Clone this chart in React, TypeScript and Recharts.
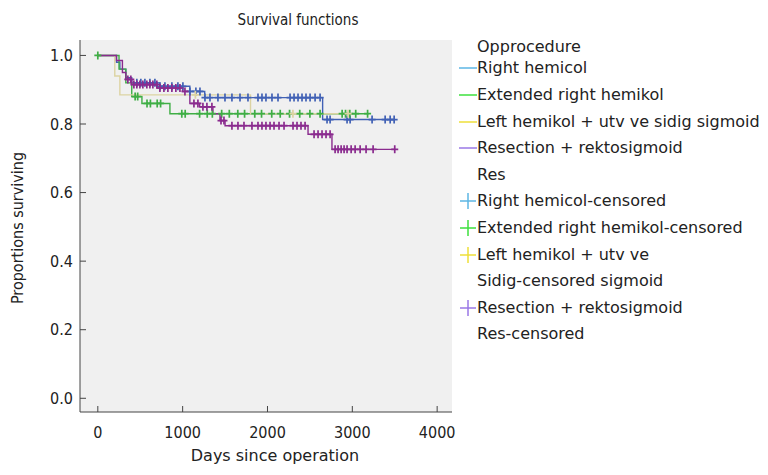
import React from "react";
import { LineChart, Line, XAxis, YAxis, CartesianGrid } from "recharts";

const FONT = '"DejaVu Sans Condensed", "DejaVu Sans", sans-serif';
const WIDE_FONT = '"DejaVu Sans", sans-serif';

const xTicks = [0, 1000, 2000, 3000, 4000];
const yTicks = [0, 0.2, 0.4, 0.6, 0.8, 1.0];

// Right hemicol
const rightTimes = [0, 220, 260, 330, 400, 730, 1085, 1260, 2650, 3500];
const rightSurv = [1.0, 0.98, 0.96, 0.935, 0.92, 0.91, 0.895, 0.877, 0.813, 0.813];
const rightCensored = [460, 507, 555, 614, 673, 732, 791, 873, 944, 1003, 1086, 1156, 1204, 1263, 1322, 1416, 1499, 1581, 1676, 1770, 1888, 1935, 1982, 2053, 2124, 2266, 2313, 2360, 2407, 2454, 2502, 2561, 2620, 2702, 2738, 2938, 2974, 3233, 3387, 3446, 3493];

// Extended right hemikol
const extTimes = [0, 250, 330, 400, 520, 850, 3190];
const extSurv = [1.0, 0.96, 0.92, 0.88, 0.86, 0.83, 0.83];
const extCensored = [0, 440, 470, 580, 620, 700, 740, 990, 1030, 1200, 1290, 1350, 1460, 1550, 1650, 1730, 1850, 1930, 2050, 2150, 2260, 2380, 2500, 2620, 2880, 2920, 2970, 3040, 3180];

// Left hemikol + utv ve sidig sigmoid
const leftTimes = [0, 200, 260, 1800, 3000];
const leftSurv = [1.0, 0.94, 0.885, 0.83, 0.83];
const leftCensored = [1150, 2300, 2950];

// Resection + rektosigmoid
const resTimes = [0, 220, 290, 330, 400, 700, 1000, 1085, 1200, 1357, 1440, 1500, 2478, 2760, 3500];
const resSurv = [1.0, 0.985, 0.95, 0.93, 0.915, 0.905, 0.895, 0.86, 0.85, 0.83, 0.81, 0.795, 0.77, 0.726, 0.726];
const resCensored = [354, 389, 425, 460, 496, 531, 578, 614, 649, 696, 732, 779, 826, 873, 920, 968, 1027, 1133, 1180, 1239, 1286, 1345, 1452, 1487, 1581, 1652, 1723, 1817, 1888, 1935, 1982, 2030, 2077, 2136, 2195, 2301, 2348, 2395, 2443, 2549, 2596, 2643, 2690, 2738, 2797, 2832, 2868, 2903, 2938, 2986, 3033, 3092, 3162, 3245, 3500];

const legendRows = [
  { label: "Right hemicol", mark: "line", color: "#5db6e4" },
  { label: "Extended right hemikol", mark: "line", color: "#3ee03e" },
  { label: "Left hemikol + utv ve sidig sigmoid", mark: "line", color: "#eedf3a" },
  { label: "Resection + rektosigmoid", mark: "line", color: "#9a78e6" },
  { label: "Res", mark: "", color: "" },
  { label: "Right hemicol-censored", mark: "cross", color: "#5db6e4" },
  { label: "Extended right hemikol-censored", mark: "cross", color: "#3ee03e" },
  { label: "Left hemikol + utv ve", mark: "cross", color: "#eedf3a" },
  { label: "Sidig-censored sigmoid", mark: "", color: "" },
  { label: "Resection + rektosigmoid", mark: "cross", color: "#9a78e6" },
  { label: "Res-censored", mark: "", color: "" },
];

const stepData = (times: number[], surv: number[]) =>
  times.map((t, i) => ({ t, s: surv[i] }));

const censorData = (times: number[], surv: number[], cens: number[]) =>
  cens.map((c) => {
    let s = surv[0];
    times.forEach((t, i) => {
      if (t <= c) s = surv[i];
    });
    return { t: c, s };
  });

const series = [
  { name: "Right hemicol", color: "#4161b5", times: rightTimes, surv: rightSurv, cens: rightCensored },
  { name: "Extended right hemikol", color: "#3fae45", times: extTimes, surv: extSurv, cens: extCensored },
  { name: "Left hemikol", color: "#dcd3a2", times: leftTimes, surv: leftSurv, cens: leftCensored },
  { name: "Resection", color: "#8a2b8e", times: resTimes, surv: resSurv, cens: resCensored },
];

const makeCross = (color: string) => (props: any) => {
  const { cx, cy } = props;
  if (cx == null || cy == null) return <g />;
  return (
    <path
      d={`M${cx - 3.5},${cy}h7M${cx},${cy - 4}v8`}
      stroke={color}
      strokeWidth={1.7}
      fill="none"
    />
  );
};

const YTick = (props: any) => {
  const { x, y, payload } = props;
  const ax = x + 8;
  return (
    <g>
      <line x1={ax} x2={ax + 6} y1={y} y2={y} stroke="#444" />
      <text x={ax - 7} y={y} dy={5.5} textAnchor="end" fontSize={16} fill="#222" fontFamily={FONT}>
        {Number(payload.value).toFixed(1)}
      </text>
    </g>
  );
};

const XTick = (props: any) => {
  const { x, y, payload } = props;
  const ay = y - 8;
  return (
    <g>
      <line x1={x} x2={x} y1={ay} y2={ay - 6} stroke="#444" />
      <text x={x} y={ay + 20} dy={5.5} textAnchor="middle" fontSize={16} fill="#222" fontFamily={FONT}>
        {payload.value}
      </text>
    </g>
  );
};

export default function App() {
  return (
    <div style={{ position: "absolute", left: 0, top: 0, width: 768, height: 475, background: "#fff", fontFamily: FONT, color: "#222" }}>
      <LineChart width={768} height={475} margin={{ top: 40, right: 316, bottom: 23, left: 0 }}>
        <CartesianGrid horizontal={false} vertical={false} fill="#f0f0f0" stroke="none" />
        <XAxis
          type="number"
          dataKey="t"
          domain={[-210, 4175]}
          ticks={xTicks}
          height={40}
          tickSize={6}
          tickMargin={2}
          tickLine={false}
          tick={<XTick />}
          stroke="#444"
          allowDataOverflow
        />
        <YAxis
          type="number"
          dataKey="s"
          domain={[-0.04, 1.045]}
          ticks={yTicks}
          width={80}
          tickSize={6}
          tickMargin={2}
          tickLine={false}
          tick={<YTick />}
          stroke="#444"
          allowDataOverflow
        />
        {series.map((sr) => (
          <Line
            key={sr.name + "-line"}
            data={stepData(sr.times, sr.surv)}
            dataKey="s"
            type="stepAfter"
            stroke={sr.color}
            strokeWidth={1.4}
            dot={false}
            activeDot={false}
            isAnimationActive={false}
          />
        ))}
        {series.map((sr) => (
          <Line
            key={sr.name + "-cens"}
            data={censorData(sr.times, sr.surv, sr.cens)}
            dataKey="s"
            stroke="none"
            dot={makeCross(sr.color)}
            activeDot={false}
            isAnimationActive={false}
          />
        ))}
      </LineChart>

      <div style={{ position: "absolute", left: 0, width: 596, top: 10, textAlign: "center", fontSize: 15, lineHeight: "20px" }}>
        Survival functions
      </div>
      <div style={{ position: "absolute", left: 75, width: 400, top: 446, textAlign: "center", fontSize: 16, lineHeight: "20px", fontFamily: WIDE_FONT }}>
        Days since operation
      </div>
      <div
        style={{
          position: "absolute",
          left: 18,
          top: 228,
          width: 200,
          marginLeft: -100,
          marginTop: -10,
          textAlign: "center",
          fontSize: 16,
          lineHeight: "20px",
          transform: "rotate(-90deg)",
          whiteSpace: "nowrap",
        }}
      >
        Proportions surviving
      </div>

      <div style={{ position: "absolute", left: 477, top: 37, fontSize: 16, lineHeight: "20px", whiteSpace: "nowrap", fontFamily: WIDE_FONT }}>
        Opprocedure
      </div>
      {legendRows.map((row, i) => {
        const cy = 68.3 + i * 26.6;
        return (
          <div key={i} style={{ position: "absolute", left: 459, top: cy - 10, height: 20, whiteSpace: "nowrap", fontSize: 16, lineHeight: "20px", fontFamily: WIDE_FONT }}>
            <svg width={18} height={20} style={{ position: "absolute", left: 0, top: 0 }}>
              {row.mark === "line" && <line x1={0} x2={18} y1={10} y2={10} stroke={row.color} strokeWidth={1.5} />}
              {row.mark === "cross" && (
                <path d="M1,10h16M9,2v16" stroke={row.color} strokeWidth={1.5} fill="none" />
              )}
            </svg>
            <span style={{ position: "absolute", left: 18, top: 0 }}>{row.label}</span>
          </div>
        );
      })}
    </div>
  );
}
